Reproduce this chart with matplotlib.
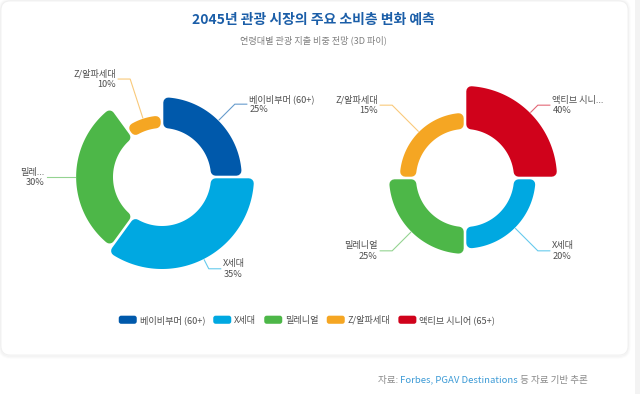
import numpy as np
import matplotlib
matplotlib.use("Agg")
import matplotlib.pyplot as plt
from matplotlib.patches import Polygon, FancyBboxPatch, Rectangle
from matplotlib.legend_handler import HandlerPatch
from matplotlib.patches import Patch

plt.rcParams['font.family'] = ['Noto Sans CJK KR', 'DejaVu Sans']

# ---------------- data ----------------
title = "2045년 관광 시장의 주요 소비층 변화 예측"
subtitle = "연령대별 관광 지출 비중 전망 (3D 파이)"

left_names = ["베이비부머 (60+)", "X세대", "밀레...", "Z/알파세대"]
left_values = [25, 35, 30, 10]
left_colors = ["#0059AB", "#00A8E1", "#4DB748", "#F5A623"]

right_names = ["액티브 시니...", "X세대", "밀레니얼", "Z/알파세대"]
right_values = [40, 20, 25, 15]
right_colors = ["#D0021B", "#00A8E1", "#4DB748", "#F5A623"]

legend_names = ["베이비부머 (60+)", "X세대", "밀레니얼", "Z/알파세대", "액티브 시니어 (65+)"]
legend_colors = ["#0059AB", "#00A8E1", "#4DB748", "#F5A623", "#D0021B"]

source_prefix = "자료: "
source_link = "Forbes, PGAV Destinations"
source_suffix = " 등 자료 기반 추론"

# ---------------- figure ----------------
W, H = 640, 394
fig = plt.figure(figsize=(W / 100, H / 100), dpi=100)
ax = fig.add_axes([0, 0, 1, 1])
ax.set_xlim(0, W)
ax.set_ylim(H, 0)
ax.axis("off")

PT = 72 / 100  # points per pixel

# side strip and card
ax.add_patch(Rectangle((635, 0), 5, H, facecolor="#f3f3f3", edgecolor="none", zorder=0))
for i, a in enumerate([0.03, 0.02, 0.012]):
    ax.add_patch(FancyBboxPatch((1 - i, 1 - i), 627 + 2 * i, 354 + 2 * i + 1,
                                boxstyle="round,pad=0,rounding_size=%d" % (9 + i),
                                facecolor="none", edgecolor=(0, 0, 0, a), lw=1.2, zorder=0.5))
ax.add_patch(FancyBboxPatch((1, 1), 627, 354, boxstyle="round,pad=0,rounding_size=9",
                            facecolor="white", edgecolor="#efefef", lw=0.6, zorder=1))

ax.text(313, 20, title, ha="center", va="center", fontsize=10, fontweight="bold",
        color="#1B5EA8", zorder=5)
ax.text(313, 40, subtitle, ha="center", va="center", fontsize=6.6, color="#808080", zorder=5)


def rounded_sector(cx, cy, r0, r1, a_start, a_end, color, corner=5.0, gap=2.6):
    """a_start > a_end (clockwise, degrees, math convention). Screen y downward."""
    d = gap / 2 + corner
    ro = r1 - corner
    ri = r0 + corner
    s = np.radians(a_start)
    e = np.radians(a_end)
    do = np.arcsin(min(d / ro, 0.99))
    di = np.arcsin(min(d / ri, 0.99))
    to = np.linspace(s - do, e + do, 80)
    ti = np.linspace(e + di, s - di, 80)
    xs = np.concatenate([cx + ro * np.cos(to), cx + ri * np.cos(ti)])
    ys = np.concatenate([cy - ro * np.sin(to), cy - ri * np.sin(ti)])
    poly = Polygon(np.column_stack([xs, ys]), closed=True, facecolor=color,
                   edgecolor=color, lw=2 * corner * PT, joinstyle="round", zorder=3)
    ax.add_patch(poly)


def rose(cx, cy, names, values, colors, equal_angle):
    r0, R = 49, 92
    vmax = max(values)
    total = sum(values)
    n = len(values)
    a = 90.0
    for name, v, c in zip(names, values, colors):
        span = 360.0 / n if equal_angle else 360.0 * v / total
        r1 = r0 + (R - r0) * v / vmax
        rounded_sector(cx, cy, r0, r1, a, a - span, c)
        mid = np.radians(a - span / 2)
        # label line
        ux, uy = np.cos(mid), -np.sin(mid)
        x1, y1 = cx + (r1 + 1) * ux, cy + (r1 + 1) * uy
        x2, y2 = cx + 103 * ux, cy + 103 * uy
        side = 1 if ux > 1e-6 else -1
        x3 = x2 + side * 12
        ax.plot([x1, x2, x3], [y1, y2, y2], color=c, alpha=0.6, lw=0.8,
                solid_joinstyle="miter", zorder=4)
        ha = "left" if side > 0 else "right"
        tx = x3 + side * 2.5
        ax.text(tx, y2 - 5, name, ha=ha, va="center", fontsize=6.6, color="#505050", zorder=5)
        ax.text(tx, y2 + 5.5, "%d%%" % v, ha=ha, va="center", fontsize=6.6, color="#505050", zorder=5)
        a -= span


rose(162, 177, left_names, left_values, left_colors, equal_angle=False)
rose(465, 178, right_names, right_values, right_colors, equal_angle=True)


# ---------------- legend ----------------
class RoundHandler(HandlerPatch):
    def create_artists(self, legend, orig_handle, xdescent, ydescent, width, height, fontsize, trans):
        p = FancyBboxPatch((-xdescent, -ydescent), width, height,
                           boxstyle="round,pad=0,rounding_size=%f" % (height * 0.3),
                           facecolor=orig_handle.get_facecolor(), edgecolor="none",
                           transform=trans)
        return [p]


handles = [Patch(facecolor=c, label=n) for n, c in zip(legend_names, legend_colors)]
fs = 6.6
em = fs / PT
leg = ax.legend(handles=handles, loc="center", bbox_to_anchor=(307 / W, 1 - 320 / H),
                bbox_transform=fig.transFigure, ncol=5, frameon=False, fontsize=fs,
                handlelength=18 / em, handleheight=9 / em, handletextpad=3 / em,
                columnspacing=8 / em, borderpad=0, borderaxespad=0,
                handler_map={Patch: RoundHandler()})
for t in leg.get_texts():
    t.set_color("#505050")
leg.set_zorder(6)

# ---------------- source ----------------
fig.canvas.draw()
renderer = fig.canvas.get_renderer()
parts = [(source_prefix, "#8a8a8a"), (source_link, "#3d9bd6"), (source_suffix, "#8a8a8a")]
fsrc = 6.9
widths = []
for s, c in parts:
    t = ax.text(0, 0, s, fontsize=fsrc)
    bb = t.get_window_extent(renderer)
    widths.append(bb.width)
    t.remove()
x = 588 - sum(widths)
for (s, c), w in zip(parts, widths):
    ax.text(x, 380, s, ha="left", va="center", fontsize=fsrc, color=c, zorder=5)
    x += w

fig.savefig("out.png", dpi=100)
